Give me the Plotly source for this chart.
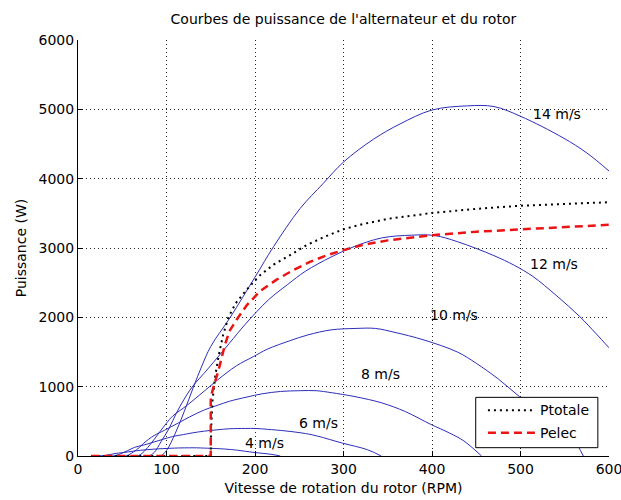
import plotly.graph_objects as go

# Rotor speed (RPM) / power (W) samples for each wind speed
rpm_4 = [15, 26.5, 31, 37, 43, 49, 57, 63, 71, 79, 86, 95, 104, 114, 126, 134, 143, 157, 164, 172, 180, 199, 218, 228.5]
pw_4 = [0, 0, 8, 23, 37, 47, 60, 70, 83, 92, 99, 106, 111, 116, 118, 118, 114, 107, 102, 94, 84, 51, 25, 0]

rpm_6 = [15, 39.7, 47, 56, 64, 74, 86, 95, 107, 119, 129, 143, 156, 171, 189, 201, 214, 235, 257, 270, 299, 327, 342.6]
pw_6 = [0, 0, 26, 77, 125, 157, 203, 237, 281, 309, 333, 359, 376, 393, 397, 397, 385, 361, 324, 289, 185, 91, 0]

rpm_8 = [15, 53, 57, 63, 69, 74, 80, 86, 98, 114, 126, 143, 158, 171, 191, 208, 229, 251, 269, 286, 313, 343, 370, 398, 420, 436, 456]
pw_8 = [0, 0, 15, 62, 119, 183, 243, 295, 373, 481, 563, 666, 733, 789, 851, 897, 931, 942, 942, 914, 856, 767, 640, 460, 330, 217, 0]

rpm_10 = [15, 66.2, 71.4, 78.6, 85.7, 92.9, 100, 107, 123, 143, 158, 179, 198, 214, 239, 260, 286, 314, 336, 357, 391, 429, 450, 475, 499, 522, 545, 560, 571]
pw_10 = [0, 0, 29, 120, 233, 357, 474, 576, 729, 940, 1100, 1301, 1432, 1541, 1661, 1747, 1819, 1840, 1840, 1786, 1673, 1498, 1337, 1110, 855, 640, 423, 240, 0]

rpm_12 = [15, 79.5, 86, 94, 103, 111, 120, 129, 147, 171, 189, 215, 237, 257, 286, 312, 343, 377, 403, 429, 470, 493, 514, 540, 567, 585, 600]
pw_12 = [0, 0, 50, 210, 400, 615, 820, 995, 1260, 1625, 1900, 2250, 2475, 2665, 2870, 3020, 3145, 3185, 3180, 3090, 2890, 2750, 2590, 2320, 2010, 1770, 1560]

rpm_14 = [15, 92.7, 100, 110, 120, 130, 140, 150, 172, 200, 221, 251, 277, 300, 334, 364, 400, 440, 470, 500, 548, 575, 600]
pw_14 = [0, 0, 80, 330, 640, 980, 1300, 1580, 2000, 2580, 3020, 3570, 3930, 4240, 4570, 4790, 4990, 5050, 5040, 4900, 4590, 4370, 4110]

wind_labels = ["4 m/s", "6 m/s", "8 m/s", "10 m/s", "12 m/s", "14 m/s"]
label_rpm = [186, 248, 317, 396, 509, 512]
label_pw = [190, 480, 1180, 2035, 2770, 4930]

# Total and electrical power of the generator
rpm_tot = [15, 150, 150.5, 152, 155, 159, 164, 170, 178, 190, 205, 221, 240, 258, 280, 300, 320, 350, 400, 450, 500, 550, 600]
pw_tot = [0, 0, 400, 800, 1150, 1450, 1750, 2000, 2200, 2390, 2600, 2760, 2900, 3040, 3170, 3270, 3340, 3420, 3505, 3565, 3610, 3640, 3660]

rpm_elec = [15, 150, 150, 152, 155, 158, 162, 166, 171, 180, 191, 206, 224, 243, 262, 280, 300, 320, 350, 400, 450, 500, 550, 600]
pw_elec = [0, 0, 850, 950, 1080, 1200, 1400, 1600, 1800, 1980, 2180, 2380, 2540, 2680, 2800, 2890, 2970, 3040, 3110, 3185, 3235, 3270, 3305, 3335]

legend_names = ["Ptotale", "Pelec"]

FONT = "DejaVu Sans, Verdana, sans-serif"
BLUE = "rgb(45,45,185)"
RED = "rgb(235,20,20)"
TOT_DASH = "2px,4px"
ELEC_DASH = "8px,5px"

fig = go.Figure()

for xs, ys in [(rpm_4, pw_4), (rpm_6, pw_6), (rpm_8, pw_8),
               (rpm_10, pw_10), (rpm_12, pw_12), (rpm_14, pw_14)]:
    fig.add_trace(go.Scatter(
        x=xs, y=ys, mode="lines", showlegend=False,
        line=dict(color=BLUE, width=1, shape="spline", smoothing=1.0),
    ))

fig.add_trace(go.Scatter(
    x=rpm_tot, y=pw_tot, mode="lines", name=legend_names[0], showlegend=False,
    line=dict(color="black", width=2, dash=TOT_DASH),
))
fig.add_trace(go.Scatter(
    x=rpm_elec, y=pw_elec, mode="lines", name=legend_names[1], showlegend=False,
    line=dict(color=RED, width=2.5, dash=ELEC_DASH),
))

for txt, xv, yv in zip(wind_labels, label_rpm, label_pw):
    fig.add_annotation(x=xv, y=yv, text=txt, showarrow=False,
                       xanchor="left", yanchor="middle",
                       font=dict(family=FONT, size=14, color="black"))

# Legend box in the lower right corner of the axes
fig.add_shape(type="rect", xref="paper", yref="paper",
              x0=0.749, x1=0.979, y0=0.020, y1=0.141,
              fillcolor="white", line=dict(color="black", width=1), layer="above")
for i, (nm, col, dash, w) in enumerate([(legend_names[0], "black", TOT_DASH, 2),
                                        (legend_names[1], RED, ELEC_DASH, 2.5)]):
    yy = 0.110 - i * 0.054
    fig.add_shape(type="line", xref="paper", yref="paper",
                  x0=0.772, x1=0.862, y0=yy, y1=yy,
                  line=dict(color=col, width=w, dash=dash), layer="above")
    fig.add_annotation(xref="paper", yref="paper", x=0.867, y=yy, text=nm,
                       showarrow=False, xanchor="left", yanchor="middle",
                       font=dict(family=FONT, size=14, color="black"))

axis_common = dict(
    showline=True, linecolor="black", linewidth=1, mirror=False,
    ticks="inside", ticklen=5, tickcolor="black",
    showgrid=True, gridcolor="rgba(0,0,0,0.85)", gridwidth=1, griddash="1px,3px",
    zeroline=False, ticklabeloverflow="allow", automargin=False,
    tickfont=dict(family=FONT, size=14, color="black"),
)

fig.update_xaxes(range=[0, 600], tickvals=[0, 100, 200, 300, 400, 500, 600],
                 title=dict(text="Vitesse de rotation du rotor (RPM)", standoff=7,
                            font=dict(family=FONT, size=14, color="black")),
                 **axis_common)
fig.update_yaxes(range=[0, 6000], tickvals=[0, 1000, 2000, 3000, 4000, 5000, 6000],
                 title=dict(text="Puissance (W)", standoff=8,
                            font=dict(family=FONT, size=14, color="black")),
                 **axis_common)

fig.update_layout(
    width=621, height=500,
    margin=dict(l=78, r=12, t=40, b=44, autoexpand=False),
    paper_bgcolor="white", plot_bgcolor="white",
    title=dict(text="Courbes de puissance de l'alternateur et du rotor",
               x=0.553, xanchor="center", y=0.962, yanchor="middle",
               font=dict(family=FONT, size=14, color="black")),
    showlegend=False,
)

fig.write_html("out.html")
